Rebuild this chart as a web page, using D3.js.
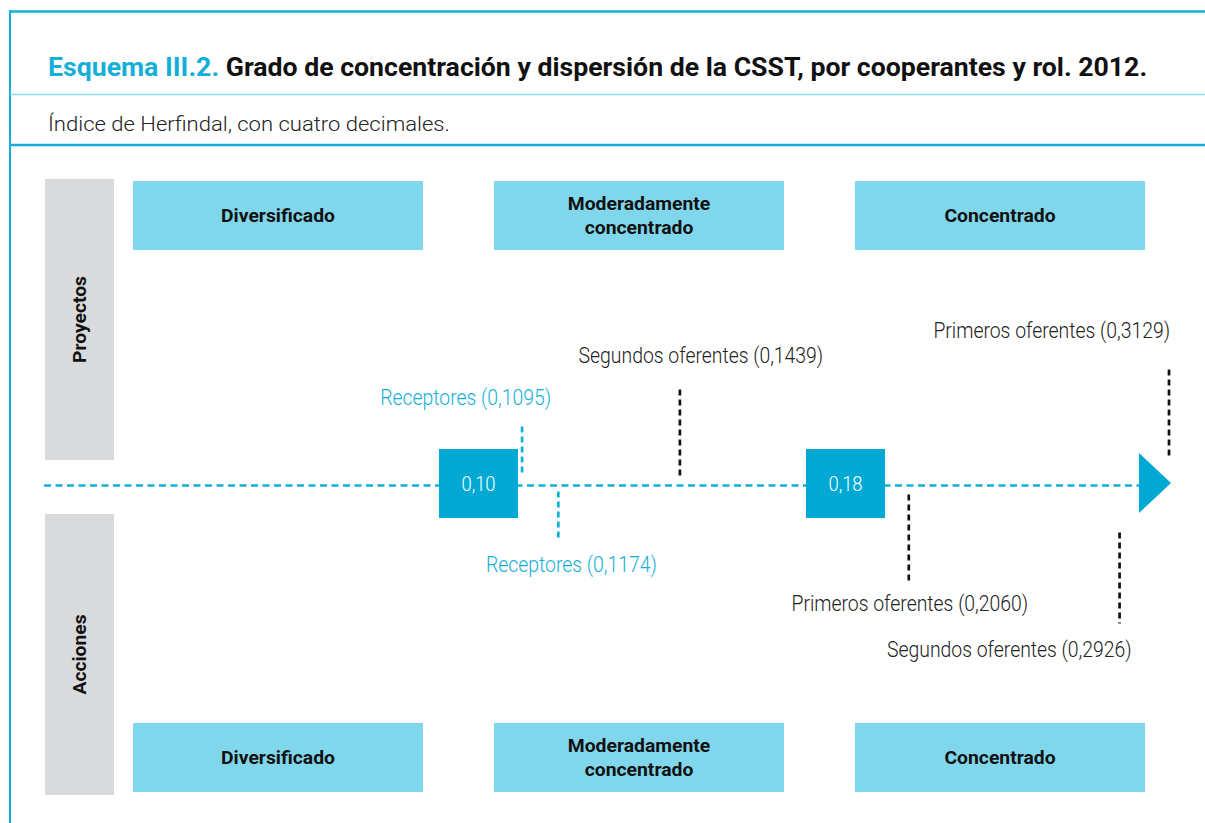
<!DOCTYPE html>
<html>
<head>
<meta charset="utf-8">
<script src="https://cdn.jsdelivr.net/npm/d3@7"></script>
<style>
  body { margin: 0; background: #fff; }
  svg { display: block; font-family: Roboto, "Noto Sans", sans-serif; }
</style>
</head>
<body>
<svg width="1205" height="823"></svg>
<script>
// data
var categories = ["Diversificado", "Moderadamente concentrado", "Concentrado"];
var panels = ["Proyectos", "Acciones"];
var thresholds = [0.10, 0.18];
var proyectosRoles = ["Receptores", "Segundos oferentes", "Primeros oferentes"];
var proyectosValues = [0.1095, 0.1439, 0.3129];
var accionesRoles = ["Receptores", "Primeros oferentes", "Segundos oferentes"];
var accionesValues = [0.1174, 0.2060, 0.2926];

// layout for the marks (gap from axis, line length, label gap, anchor, dx)
var proyectosLayout = [
  {gap: 13, len: 48, tgap: 20, anchor: "end", dx: 29, blue: true},
  {gap: 10, len: 90, tgap: 23, anchor: "middle", dx: 21},
  {gap: 30, len: 89, tgap: 29, anchor: "end", dx: 1}
];
var accionesLayout = [
  {gap: 6, len: 47, tgap: 33, anchor: "middle", dx: 13, blue: true},
  {gap: 9, len: 90, tgap: 26, anchor: "middle", dx: 1},
  {gap: 47, len: 91, tgap: 33, anchor: "end", dx: 12}
];

var blue = "#14afd9",
    dark = "#00a9d4",
    light = "#80d6eb",
    grey = "#d9dadc";

var svg = d3.select("svg");
var locale = d3.formatLocale({decimal: ",", thousands: ".", grouping: [3], currency: ["", ""]});
var f4 = locale.format(".4f"), f2 = locale.format(".2f");

// squeeze text horizontally so it reads like the condensed original
function squeeze(sel, k) {
  sel.each(function() {
    var t = d3.select(this);
    t.attr("transform", t.attr("data-t") + " scale(" + k + ",1)");
  });
}
function fitWidth(node, w) { return w / node.getComputedTextLength(); }

// frame
svg.append("line").attr("x1", 9).attr("x2", 1205).attr("y1", 11.5).attr("y2", 11.5)
  .attr("stroke", blue).attr("stroke-width", 2.5);
svg.append("line").attr("x1", 10).attr("x2", 10).attr("y1", 10).attr("y2", 823)
  .attr("stroke", blue).attr("stroke-width", 2);
svg.append("line").attr("x1", 10).attr("x2", 1205).attr("y1", 94.5).attr("y2", 94.5)
  .attr("stroke", "#8fd8ec").attr("stroke-width", 1.5);
svg.append("line").attr("x1", 10).attr("x2", 1205).attr("y1", 145).attr("y2", 145)
  .attr("stroke", blue).attr("stroke-width", 2.5);

// title
var title = svg.append("text").attr("data-t", "translate(48,75.5)")
  .attr("font-size", 25).attr("font-weight", 700);
title.append("tspan").attr("fill", blue).text("Esquema III.2. ");
title.append("tspan").attr("fill", "#111").text("Grado de concentración y dispersión de la CSST, por cooperantes y rol. 2012.");
squeeze(title, fitWidth(title.node(), 1100));

var sub = svg.append("text").attr("data-t", "translate(48,131)")
  .attr("font-size", 19.5).attr("font-weight", 300).attr("fill", "#222")
  .text("Índice de Herfindal, con cuatro decimales.");
squeeze(sub, fitWidth(sub.node(), 402));

// side panels
var panelY = d3.scaleBand().domain(panels).range([179, 795]).paddingInner(0.161);
svg.selectAll(".panel").data(panels).enter().append("rect")
  .attr("x", 45).attr("width", 69)
  .attr("y", function(d) { return panelY(d); })
  .attr("height", panelY.bandwidth())
  .attr("fill", grey);
var plab = svg.selectAll(".plab").data(panels).enter().append("text")
  .attr("data-t", function(d) { return "translate(86," + (panelY(d) + panelY.bandwidth() / 2) + ") rotate(-90)"; })
  .attr("text-anchor", "middle").attr("font-size", 18.5).attr("font-weight", 700).attr("fill", "#111")
  .text(function(d) { return d; });
squeeze(plab, fitWidth(plab.node(), 87));

// category boxes, top and bottom
var cx = d3.scaleBand().domain(categories).range([133, 1145]).paddingInner(0.1967);
var boxK = null;
[181, 723].forEach(function(y0) {
  var g = svg.append("g");
  g.selectAll("rect").data(categories).enter().append("rect")
    .attr("x", function(d) { return cx(d); })
    .attr("y", y0).attr("width", cx.bandwidth()).attr("height", 69)
    .attr("fill", light);
  var t = g.selectAll("text").data(categories).enter().append("text")
    .attr("text-anchor", "middle").attr("font-size", 19).attr("font-weight", 700).attr("fill", "#111")
    .attr("data-t", function(d) { return "translate(" + (cx(d) + cx.bandwidth() / 2) + "," + (y0 + 34.5) + ")"; });
  t.each(function(d) {
    var words = d.split(" ");
    var sel = d3.select(this);
    words.forEach(function(w, i) {
      sel.append("tspan").attr("x", 0)
        .attr("y", (i - (words.length - 1) / 2) * 25 + 6.5)
        .text(w);
    });
  });
  if (boxK === null) boxK = fitWidth(t.node(), 114);
  squeeze(t, boxK);
});

// axis scale (schematic: threshold boxes and arrow end)
var all = proyectosValues.concat(accionesValues);
var x = d3.scaleLinear()
  .domain([thresholds[0], thresholds[1], d3.max(all)])
  .range([478.5, 845.5, 1169]);
var axisY = 485.5;

svg.append("line").attr("x1", 44).attr("x2", 1140).attr("y1", axisY).attr("y2", axisY)
  .attr("stroke", blue).attr("stroke-width", 2.5).attr("stroke-dasharray", "7,4.5");
svg.append("path")
  .attr("d", d3.line()([[1139, 453], [1171, 483], [1139, 513]]) + "Z")
  .attr("fill", dark);

var sq = svg.selectAll(".sq").data(thresholds).enter().append("g")
  .attr("transform", function(d) { return "translate(" + x(d) + ",483.5)"; });
sq.append("rect").attr("x", -39.5).attr("y", -34.5).attr("width", 79).attr("height", 69).attr("fill", dark);
var sqt = sq.append("text").attr("data-t", "translate(0,7)")
  .attr("text-anchor", "middle").attr("font-size", 20).attr("font-weight", 300).attr("fill", "#fff")
  .text(function(d) { return f2(d); });
squeeze(sqt, 0.92);

// markers
function markers(roles, values, layout, dir) {
  var data = values.map(function(v, i) { return {role: roles[i], v: v, l: layout[i]}; });
  var g = svg.append("g");
  g.selectAll("line").data(data).enter().append("line")
    .attr("x1", function(d) { return x(d.v); })
    .attr("x2", function(d) { return x(d.v); })
    .attr("y1", function(d) { return axisY + dir * d.l.gap; })
    .attr("y2", function(d) { return axisY + dir * (d.l.gap + d.l.len); })
    .attr("stroke", function(d) { return d.l.blue ? blue : "#111"; })
    .attr("stroke-width", 2.7).attr("stroke-dasharray", "6,4");
  var t = g.selectAll("text").data(data).enter().append("text")
    .attr("data-t", function(d) {
      var y = axisY + dir * (d.l.gap + d.l.len + d.l.tgap);
      return "translate(" + (x(d.v) + d.l.dx) + "," + y + ")";
    })
    .attr("text-anchor", function(d) { return d.l.anchor; })
    .attr("font-size", 22).attr("font-weight", 300)
    .attr("fill", function(d) { return d.l.blue ? blue : "#222"; })
    .text(function(d) { return d.role + " (" + f4(d.v) + ")"; });
  return t;
}
var t1 = markers(proyectosRoles, proyectosValues, proyectosLayout, -1);
var t2 = markers(accionesRoles, accionesValues, accionesLayout, 1);
var k = fitWidth(t1.node(), 171);
squeeze(t1, k);
squeeze(t2, k);
</script>
</body>
</html>
